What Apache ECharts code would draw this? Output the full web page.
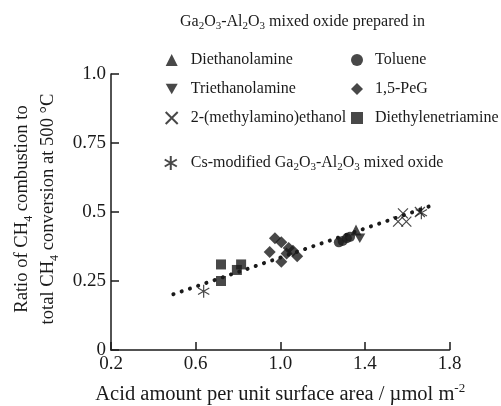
<!DOCTYPE html>
<html><head><meta charset="utf-8">
<script src="https://cdn.jsdelivr.net/npm/echarts@6/dist/echarts.min.js"></script>
<style>html,body{margin:0;padding:0;background:#fff}#c{width:501px;height:406px}</style>
</head><body><div id="c"></div>
<script>
// ---- data ----
var diethanolamine = [[1.358, 0.435]];
var triethanolamine = [[1.376, 0.405]];
var methylaminoethanol = [[1.557, 0.465], [1.596, 0.465], [1.580, 0.495], [1.660, 0.500]];
var toluene = [[1.277, 0.390], [1.295, 0.395], [1.315, 0.405], [1.330, 0.410]];
var peg = [[0.975, 0.405], [1.005, 0.390], [0.950, 0.355], [1.040, 0.370], [1.030, 0.350], [1.080, 0.340], [1.005, 0.320], [1.060, 0.360]];
var diethylenetriamine = [[0.720, 0.310], [0.815, 0.310], [0.795, 0.290], [0.720, 0.250]];
var csModified = [[0.638, 0.213], [1.667, 0.497]];
var trendX = [0.495, 1.711];
var trendY = [0.202, 0.522];
var xTicks = [0.2, 0.6, 1.0, 1.4, 1.8];
var yTicks = [0, 0.25, 0.5, 0.75, 1.0];

var FONT = 'Liberation Serif';
var INK = '#1a1a1a';
var rich19 = {
  n: {fontFamily: FONT, fontSize: 18.6, color: INK, lineHeight: 26, fontWeight: 'normal'},
  s: {fontFamily: FONT, fontSize: 12, color: INK, lineHeight: 16, verticalAlign: 'bottom', fontWeight: 'normal'}
};
var richX = {
  n: {fontFamily: FONT, fontSize: 20.5, color: INK, lineHeight: 26, fontWeight: 'normal'},
  p: {fontFamily: FONT, fontSize: 13, color: INK, lineHeight: 16, verticalAlign: 'top', fontWeight: 'normal'}
};
var rich16 = {
  n: {fontFamily: FONT, fontSize: 16, color: INK, lineHeight: 20, fontWeight: 'normal'},
  s: {fontFamily: FONT, fontSize: 11, color: INK, lineHeight: 13, verticalAlign: 'bottom', fontWeight: 'normal'}
};
var GaAl = '{n|Ga}{s|2}{n|O}{s|3}{n|-Al}{s|2}{n|O}{s|3}';

var sym = {
  down: 'path://M0,0L10,0L5,8.66Z',
  cross: 'path://M0,0L10,10M10,0L0,10',
  star: 'path://M5,0L5,10M0.67,2.5L9.33,7.5M0.67,7.5L9.33,2.5'
};
var filled = {color: INK};
var stroked = {color: 'transparent', borderColor: INK, borderWidth: 1.2};

var chart = echarts.init(document.getElementById('c'), null, {renderer: 'canvas'});
var legendText = {fontFamily: FONT, fontSize: 16, color: INK, lineHeight: 20, padding: [0, 0, 0, 8], rich: rich16};
chart.setOption({
  animation: false,
  backgroundColor: '#fff',
  title: {
    text: GaAl + '{n| mixed oxide prepared in}',
    left: 180, top: 12, padding: 0,
    textStyle: {fontWeight: 'normal', rich: rich16}
  },
  legend: [
    {orient: 'vertical', left: 164.7, top: 50, padding: 0, itemWidth: 12, itemHeight: 12, itemGap: 9, selectedMode: false,
     data: ['Diethanolamine', 'Triethanolamine', '2-(methylamino)ethanol'], textStyle: legendText},
    {orient: 'vertical', left: 351, top: 50, padding: 0, itemWidth: 12, itemHeight: 12, itemGap: 9, selectedMode: false,
     data: ['Toluene', '1,5-PeG', 'Diethylenetriamine'],
     textStyle: {fontFamily: FONT, fontSize: 16, color: INK, lineHeight: 20, padding: [0, 0, 0, 7]}},
    {orient: 'vertical', left: 163.7, top: 153, padding: 0, itemWidth: 14, itemHeight: 14, selectedMode: false,
     data: ['Cs-modified Ga2O3-Al2O3 mixed oxide'], textStyle: legendText,
     formatter: function () { return '{n|Cs-modified }' + GaAl + '{n| mixed oxide}'; }}
  ],
  grid: {left: 111, top: 74, right: 51.5, bottom: 56, containLabel: false, outerBoundsMode: 'none'},
  xAxis: {
    type: 'value', min: xTicks[0], max: xTicks[xTicks.length - 1], interval: 0.4,
    name: '{n|Acid amount per unit surface area / µmol m}{p|-2}',
    nameLocation: 'middle', nameGap: 32,
    nameTextStyle: {rich: richX},
    axisLine: {lineStyle: {color: INK, width: 1.5}},
    axisTick: {inside: true, length: 8, lineStyle: {color: INK, width: 1.5}},
    axisLabel: {fontFamily: FONT, fontSize: 19, color: INK, margin: 5,
      formatter: function (v) { return v.toFixed(1); }},
    splitLine: {show: false}
  },
  yAxis: {
    type: 'value', min: yTicks[0], max: yTicks[yTicks.length - 1], interval: 0.25,
    name: '{n|Ratio of CH}{s|4}{n| combustion to}\n{n|total CH}{s|4}{n| conversion at 500 °C}',
    nameLocation: 'middle', nameGap: 50, nameRotate: 90,
    nameTextStyle: {rich: rich19, align: 'center', padding: [0, 0, 0, 6]},
    axisLine: {lineStyle: {color: INK, width: 1.5}},
    axisTick: {inside: true, length: 8, lineStyle: {color: INK, width: 1.5}},
    axisLabel: {fontFamily: FONT, fontSize: 19, color: INK, margin: 5,
      formatter: function (v) { return v === 0 ? '0' : (v === 1 ? '1.0' : String(v)); }},
    splitLine: {show: false}
  },
  series: [
    {type: 'line', name: 'trend', data: trendX.map(function (x, i) { return [x, trendY[i]]; }),
     symbol: 'none', silent: true, z: 1,
     lineStyle: {color: INK, width: 4, type: [0.1, 8.6], cap: 'round'}},
    {type: 'scatter', name: 'Diethanolamine', data: diethanolamine, symbol: 'triangle', symbolSize: 11, itemStyle: filled},
    {type: 'scatter', name: 'Triethanolamine', data: triethanolamine, symbol: sym.down, symbolKeepAspect: true, symbolSize: 11, itemStyle: filled},
    {type: 'scatter', name: '2-(methylamino)ethanol', data: methylaminoethanol, symbol: sym.cross, symbolSize: 10, itemStyle: stroked},
    {type: 'scatter', name: 'Toluene', data: toluene, symbol: 'circle', symbolSize: 10, itemStyle: filled},
    {type: 'scatter', name: '1,5-PeG', data: peg, symbol: 'diamond', symbolSize: 12, itemStyle: filled},
    {type: 'scatter', name: 'Diethylenetriamine', data: diethylenetriamine, symbol: 'rect', symbolSize: 10, itemStyle: filled},
    {type: 'scatter', name: 'Cs-modified Ga2O3-Al2O3 mixed oxide', data: csModified, symbol: sym.star, symbolKeepAspect: true, symbolSize: 13, itemStyle: stroked}
  ]
});
</script></body></html>
